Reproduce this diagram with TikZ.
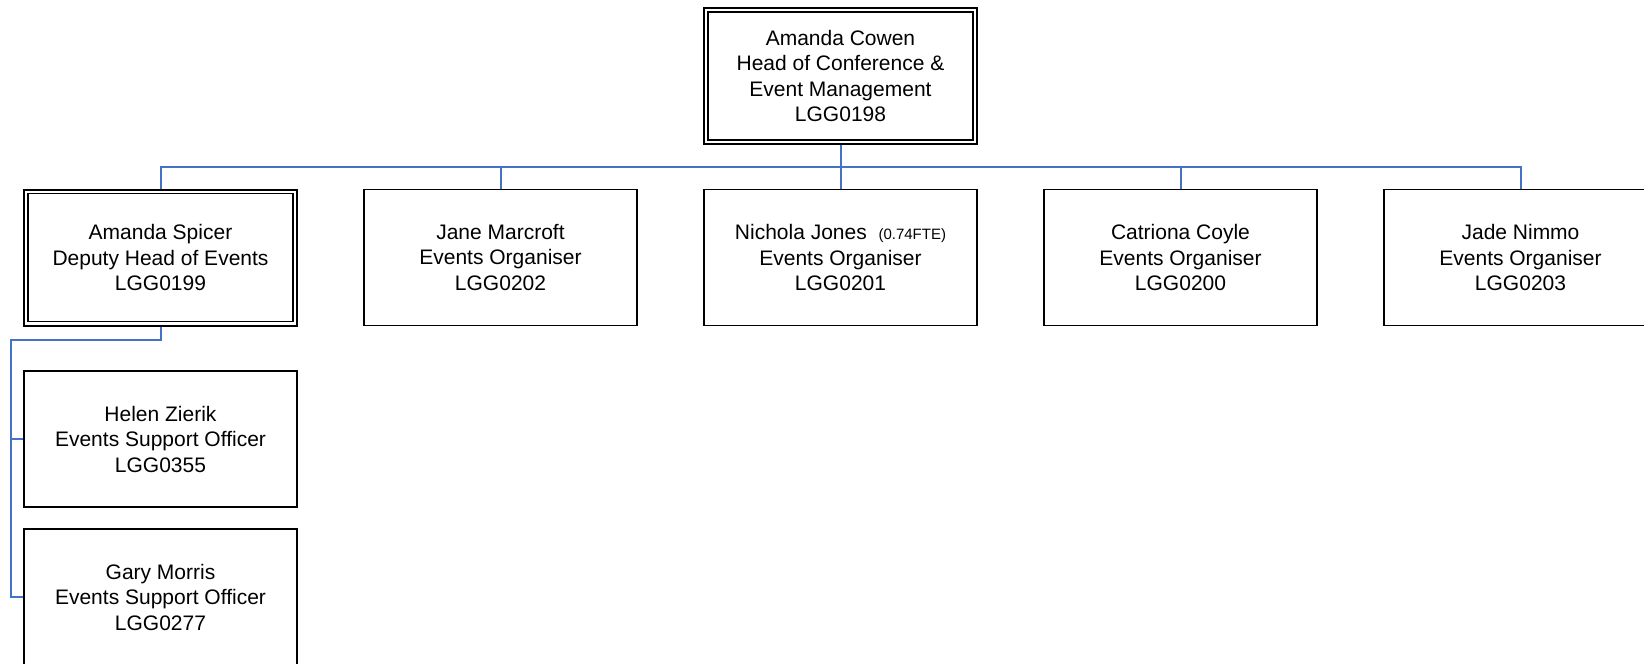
\documentclass[tikz,border=0pt]{standalone}
\usepackage{fontspec}
\setmainfont{Liberation Sans}
\definecolor{connblue}{HTML}{4472C4}
\begin{document}
\begin{tikzpicture}[x=1pt,y=-1pt,
  box/.style={draw=black, line width=1.8pt, fill=white, rectangle, inner sep=0pt,
    minimum width=273pt, minimum height=136pt, align=center,
    font=\fontsize{21}{25.5}\selectfont},
  dbox/.style={box, line width=2pt},
  innerline/.style={draw=black, line width=1.4pt},
  conn/.style={draw=connblue, line width=2pt}]
\useasboundingbox (0,0) rectangle (1644,664);
\clip (0,0) rectangle (1644,664);
\node[dbox] (top) at (840.5,76) {Amanda Cowen\\Head of Conference \&\\Event Management\\LGG0198};
\node[dbox] (spicer) at (160.5,257.5) {Amanda Spicer\\Deputy Head of Events\\LGG0199};
\draw[innerline] ([shift={(5,5)}]top.north west) rectangle ([shift={(-5,-5)}]top.south east);
\draw[innerline] ([shift={(5,5)}]spicer.north west) rectangle ([shift={(-5,-5)}]spicer.south east);
\node[box] (jane) at (500.5,257.5) {Jane Marcroft\\Events Organiser\\LGG0202};
\node[box] (nichola) at (840.5,257.5) {Nichola Jones\ \ {\fontsize{15}{15}\selectfont(0.74FTE)}\\Events Organiser\\LGG0201};
\node[box] (catriona) at (1180.5,257.5) {Catriona Coyle\\Events Organiser\\LGG0200};
\node[box] (jade) at (1520.5,257.5) {Jade Nimmo\\Events Organiser\\LGG0203};
\node[box] (helen) at (160.5,439) {Helen Zierik\\Events Support Officer\\LGG0355};
\node[box] (gary) at (160.5,597) {Gary Morris\\Events Support Officer\\LGG0277};
\coordinate (bus) at (840.5,166.5);
\coordinate (spine) at (10.5,340);
\draw[conn] (top.south) -- (bus);
\draw[conn] (spicer.north) |- (bus) -| (jade.north);
\draw[conn] (jane.north) -- (jane.north |- bus);
\draw[conn] (nichola.north) -- (nichola.north |- bus);
\draw[conn] (catriona.north) -- (catriona.north |- bus);
\draw[conn] (spicer.south) |- (spine) |- (gary.west);
\draw[conn] (spine |- helen.west) -- (helen.west);
\end{tikzpicture}
\end{document}
